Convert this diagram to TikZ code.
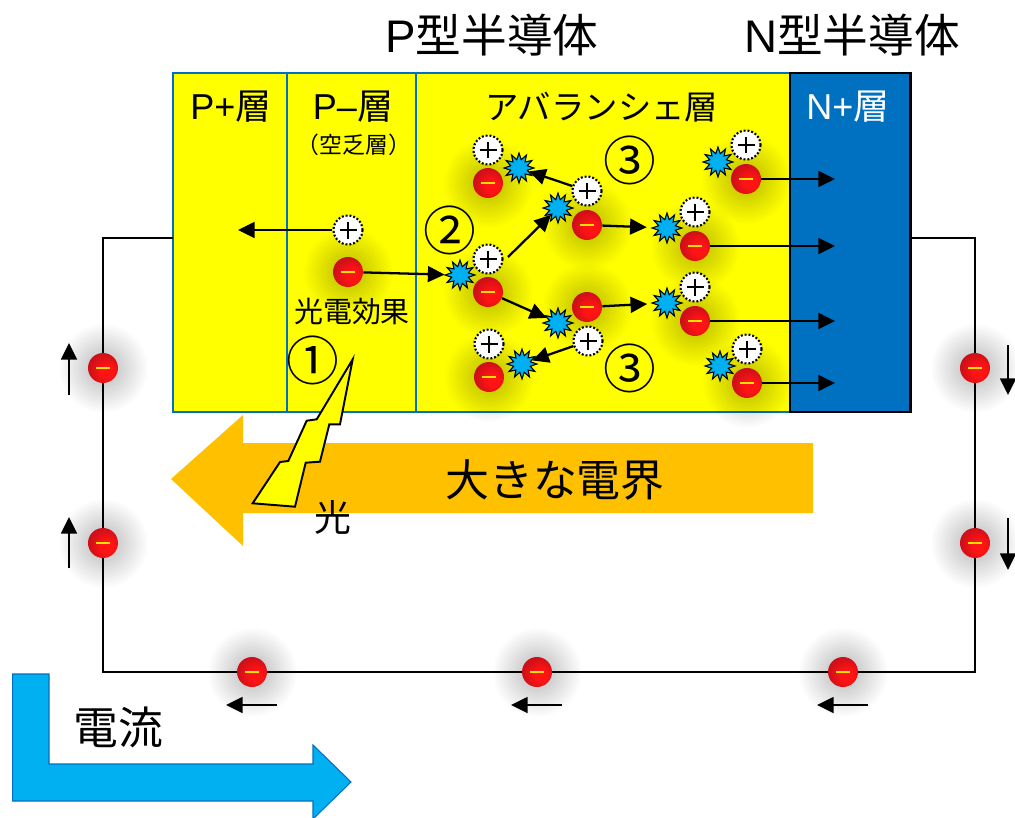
\documentclass[tikz,border=0pt]{standalone}
\usepackage{fontspec}
\setmainfont{Liberation Sans}
\newfontfamily\jp{Noto Sans CJK JP}
\usetikzlibrary{shapes.geometric,arrows.meta,fadings}

\definecolor{siyellow}{RGB}{255,255,0}
\definecolor{layerblue}{RGB}{0,112,192}
\definecolor{fieldorange}{RGB}{255,192,0}
\definecolor{flowblue}{RGB}{0,176,240}
\definecolor{burstblue}{RGB}{0,176,240}
\definecolor{minusyellow}{RGB}{255,224,0}
\definecolor{eA}{RGB}{255,20,20}
\definecolor{eB}{RGB}{200,15,25}
\definecolor{eC}{RGB}{150,25,35}
\definecolor{eD}{RGB}{230,150,160}
\definecolor{hA}{RGB}{255,255,255}
\definecolor{hB}{RGB}{205,205,205}

% shaded balls for carriers
\pgfdeclareradialshading{electronshade}{\pgfpoint{9bp}{-7bp}}{color(0bp)=(eA); color(10bp)=(eA); color(30bp)=(eB); color(42bp)=(eC); color(47bp)=(eC); color(50bp)=(eD)}
\pgfdeclareradialshading{holeshade}{\pgfpoint{0bp}{0bp}}{color(0bp)=(hA); color(30bp)=(hA); color(50bp)=(hB)}
\tikzfading[name=glowfade, inner color=transparent!72, outer color=transparent!100]

\tikzset{
  electron/.style={circle, minimum size=0.6cm, inner sep=0pt, shade, shading=electronshade,
    path picture={\draw[minusyellow, line width=1.1pt]
      ([xshift=-0.14cm]path picture bounding box.center) -- ([xshift=0.14cm]path picture bounding box.center);}},
  hole/.style={circle, minimum size=0.58cm, inner sep=0pt, shade, shading=holeshade,
    draw=black, line width=1.2pt, dash pattern=on 1.1pt off 1.1pt,
    path picture={\draw[black, line width=1.3pt, solid]
      ([xshift=-0.17cm]path picture bounding box.center) -- ([xshift=0.17cm]path picture bounding box.center)
      ([yshift=-0.17cm]path picture bounding box.center) -- ([yshift=0.17cm]path picture bounding box.center);}},
  burst/.style={star, star points=12, star point ratio=1.75, minimum size=0.6cm, inner sep=0pt,
    fill=burstblue, draw=black, line width=0.6pt},
  arr/.style={-{Triangle[length=9.5pt,width=9pt]}, line width=1.3pt},
  wire/.style={line width=0.9pt},
  txt/.style={inner sep=0pt, outer sep=0pt},
  stepmark/.style={txt, font=\jp\fontsize{30}{34}\selectfont},
}

\begin{document}
\begin{tikzpicture}[x=0.02cm, y=-0.02cm]
\useasboundingbox (0,0) rectangle (1015,818);

% semiconductor layers
\draw[fill=siyellow, draw=layerblue, line width=1.5pt] (173,73) rectangle (790,412);
\draw[layerblue, line width=1pt] (287,73) -- (287,412) (416,73) -- (416,412);
\draw[fill=layerblue, draw=black, line width=1.7pt] (790,73) rectangle (910,412);

% electric field arrow
\fill[fieldorange] (813,443) -- (243,443) -- (243,415) -- (171,479) -- (243,546) -- (243,513) -- (813,513) -- cycle;
\node[txt, font=\jp\fontsize{25}{30}\selectfont] (field) at (555,480) {大きな電界};

% current arrow
\filldraw[fill=flowblue, draw=layerblue, line width=0.6pt] (12.7,674) -- (49,674) -- (49,764) -- (313,764)
  -- (313,745) -- (351,782) -- (313,819) -- (313,801) -- (12.7,801) -- cycle;
\node[txt, font=\jp\fontsize{25.5}{30}\selectfont] (cur) at (118,727) {電流};

% external circuit
\coordinate (wl) at (173,238);
\coordinate (wr) at (910,238);
\coordinate (c1) at (103,238);
\coordinate (c2) at (103,672);
\coordinate (c3) at (975,672);
\coordinate (c4) at (975,238);
\draw[wire] (wl) -- (c1) -- (c2) -- (c3) -- (c4) -- (wr);

% soft shadows under the electrons
\foreach \x/\y in {348/272, 488/292, 587/225, 488/183, 587/307, 489/377, 746/179, 695/246, 695/321, 747/383,
                   103/368, 103/543, 252/672, 537/672, 843/672, 975/368, 975/543}
  \fill[black, path fading=glowfade] (\x,\y) circle (0.9cm);

% carriers in the diode
\node[hole] (h1) at (348,230) {};
\node[electron] (e1) at (348,272) {};

\node[burst] (b2) at (460,275) {};
\node[hole] (h2) at (488,259) {};
\node[electron] (e2) at (488,292) {};

\node[burst] (b3) at (558,208) {};
\node[hole] (h3) at (587,191) {};
\node[electron] (e3) at (587,225) {};

\node[burst] (b4) at (519,168) {};
\node[hole] (h4) at (488,150) {};
\node[electron] (e4) at (488,183) {};

\node[burst] (b5) at (558,323) {};
\node[electron] (e5) at (587,307) {};
\node[hole] (h5) at (588,341) {};

\node[burst] (b6) at (522,364) {};
\node[hole] (h6) at (489,344) {};
\node[electron] (e6) at (489,377) {};

\node[burst] (b7) at (718,162) {};
\node[hole] (h7) at (746,145) {};
\node[electron] (e7) at (746,179) {};

\node[burst] (b8) at (667,228) {};
\node[hole] (h8) at (695,212) {};
\node[electron] (e8) at (695,246) {};

\node[burst] (b9) at (667,303) {};
\node[hole] (h9) at (695,287) {};
\node[electron] (e9) at (695,321) {};

\node[burst] (b10) at (720,366) {};
\node[hole] (h10) at (747,349) {};
\node[electron] (e10) at (747,383) {};

% carrier motion
\coordinate (t1) at (238,230);
\coordinate (s2) at (508,257);
\coordinate (t7) at (835,179);
\coordinate (t8) at (835,246);
\coordinate (t9) at (835,321);
\coordinate (t10) at (835,383);
\draw[arr] (h1) -- (t1);
\draw[arr] (e1) -- (b2);
\draw[arr] (s2) -- (b3);
\draw[arr] (e2) -- (b5);
\draw[arr] (h3) -- (b4);
\draw[arr] (h5) -- (b6);
\draw[arr, shorten >=3pt] (e3) -- (b8);
\draw[arr, shorten >=3pt] (e5) -- (b9);
\draw[arr] (e7) -- (t7);
\draw[arr] (e8) -- (t8);
\draw[arr] (e9) -- (t9);
\draw[arr] (e10) -- (t10);

% electrons in the circuit
\node[electron] (w1) at (103,368) {};
\node[electron] (w2) at (103,543) {};
\node[electron] (w3) at (252,672) {};
\node[electron] (w4) at (537,672) {};
\node[electron] (w5) at (843,672) {};
\node[electron] (w6) at (975,368) {};
\node[electron] (w7) at (975,543) {};

\coordinate (a1s) at (69,395);   \coordinate (a1e) at (69,343);
\coordinate (a2s) at (69,568);   \coordinate (a2e) at (69,517);
\coordinate (a3s) at (1008,345); \coordinate (a3e) at (1008,395);
\coordinate (a4s) at (1008,518); \coordinate (a4e) at (1008,570);
\coordinate (a5s) at (277,705);  \coordinate (a5e) at (226,705);
\coordinate (a6s) at (562,705);  \coordinate (a6e) at (511,705);
\coordinate (a7s) at (868,705);  \coordinate (a7e) at (817,705);
\foreach \i in {1,...,7} \draw[arr] (a\i s) -- (a\i e);

% incoming light
\filldraw[fill=siyellow, draw=black, line width=1.1pt, line join=miter]
  (352.7,359.3) -- (316.7,419.3) -- (306.7,420.7) -- (288.3,461) -- (280,462) -- (252.7,503.3)
  -- (295,506.7) -- (305.7,462.7) -- (320,461.7) -- (329.3,424.3) -- (340,424.3) -- cycle;

% labels
\node[txt, font=\fontsize{26}{30}\selectfont] (ptitle) at (492,35) {P{\jp 型半導体}};
\node[txt, font=\fontsize{26}{30}\selectfont] (ntitle) at (852,35) {N{\jp 型半導体}};
\node[txt, font=\fontsize{20.5}{24}\selectfont] (lpp) at (231,107) {P+{\jp 層}};
\node[txt, font=\fontsize{20.5}{24}\selectfont] (lpm) at (353,107) {P–{\jp 層}};
\node[txt, font=\jp\fontsize{13}{15}\selectfont] (lpm2) at (354,145) {（空乏層）};
\node[txt, font=\jp\fontsize{19}{24}\selectfont] (lav) at (602,107) {アバランシェ層};
\node[txt, font=\fontsize{20.5}{24}\selectfont, text=white] (lnp) at (848,107) {N+{\jp 層}};
\node[txt, font=\jp\fontsize{16.5}{20}\selectfont] (photo) at (352,312) {光電効果};
\node[stepmark] (n1) at (313,360) {①};
\node[stepmark] (n2) at (450,230) {②};
\node[stepmark] (n3a) at (630,160) {③};
\node[stepmark] (n3b) at (630,368) {③};
\node[txt, font=\jp\fontsize{21}{24}\selectfont] (light) at (333,517) {光};
\end{tikzpicture}
\end{document}
